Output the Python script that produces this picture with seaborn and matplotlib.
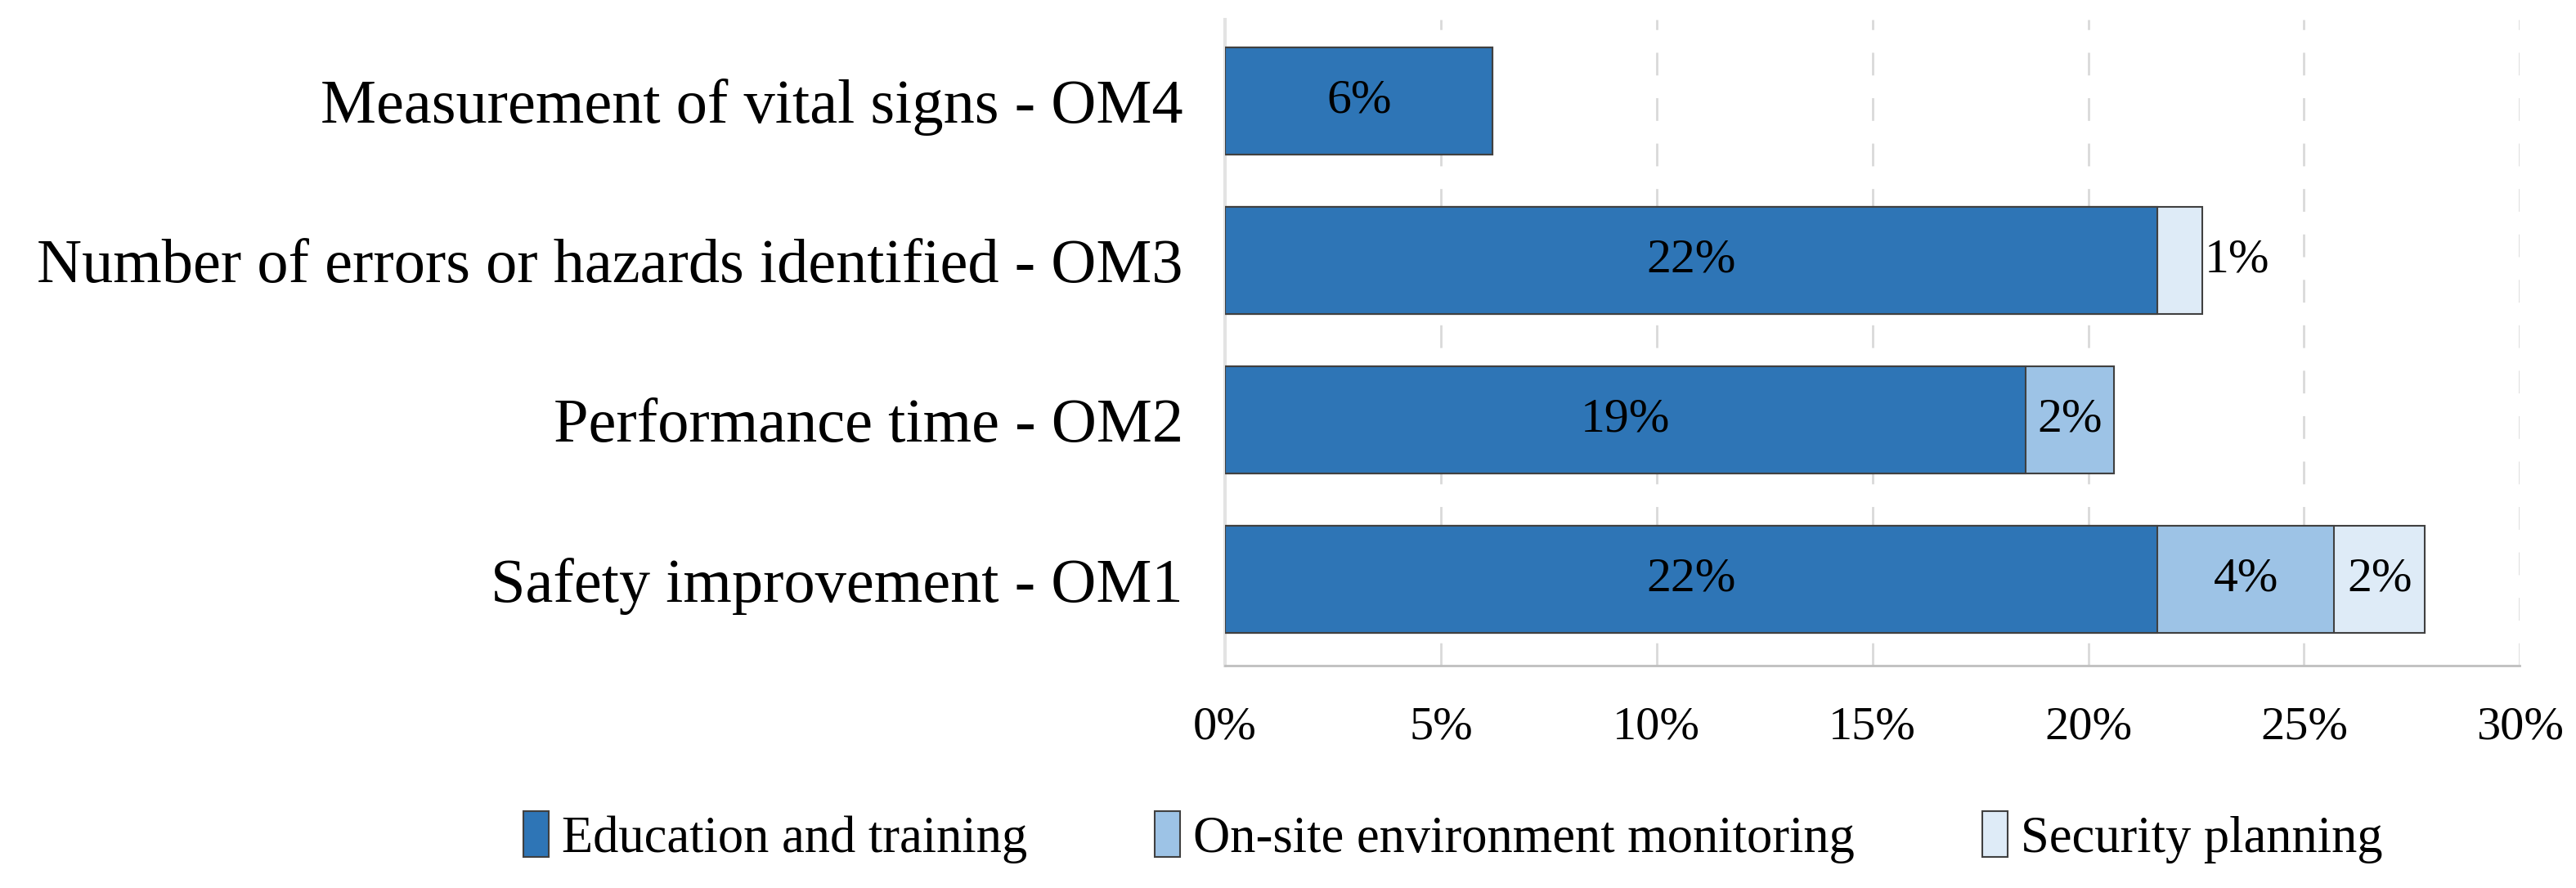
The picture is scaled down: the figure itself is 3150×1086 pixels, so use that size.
import matplotlib
matplotlib.use("Agg")
import matplotlib.pyplot as plt
from matplotlib.patches import Patch
import numpy as np
import pandas as pd
import seaborn as sns

# ---- data ----
categories = [
    "Measurement of vital signs - OM4",
    "Number of errors or hazards identified - OM3",
    "Performance time - OM2",
    "Safety improvement - OM1",
]
series_names = ["Education and training", "On-site environment monitoring", "Security planning"]
education = [6.2, 21.6, 18.55, 21.6]
monitoring = [0.0, 0.0, 2.05, 4.1]
security = [0.0, 1.05, 0.0, 2.1]
x_ticks = [0, 5, 10, 15, 20, 25, 30]

colors = ["#2E75B6", "#9DC3E6", "#DEEBF7"]

sns.set_style("white")
plt.rcParams["font.family"] = ["Liberation Serif", "DejaVu Serif"]
plt.rcParams["text.color"] = "black"
plt.rcParams["xtick.labelcolor"] = "black"
plt.rcParams["ytick.labelcolor"] = "black"

fig = plt.figure(figsize=(31.5, 10.86), dpi=100)
ax = fig.add_axes([0.4756, 0.2505, 0.5026, 0.7274])

edu = np.array(education)
mon = np.array(monitoring)
sec = np.array(security)
cum_total = edu + mon + sec
cum_mid = edu + mon

df = pd.DataFrame({"cat": categories, "total": cum_total, "mid": cum_mid, "edu": edu})

for col, c in zip(["total", "mid", "edu"], colors[::-1]):
    sns.barplot(data=df, x=col, y="cat", orient="h", color=c, width=0.67,
                edgecolor="#404040", linewidth=1.5, saturation=1, ax=ax, zorder=3)

ax.set_xlim(0, 30)
ax.set_ylim(3.54, -0.51)
ax.set_xlabel("")
ax.set_ylabel("")

# grid
ax.set_xticks(x_ticks)
ax.set_xticklabels([f"{t}%" for t in x_ticks], fontsize=42)
for t in x_ticks[1:]:
    ax.axvline(t, color="#D9D9D9", linewidth=2, linestyle=(0, (10, 10)), zorder=0)

ax.tick_params(axis="x", length=14, width=2, color="#BFBFBF", pad=22)
ax.tick_params(axis="y", which="major", length=0, pad=37, labelsize=55)
ax.set_yticks([-0.5, 0.5, 1.5, 2.5, 3.5], minor=True)
ax.tick_params(axis="y", which="minor", length=8, width=2, color="#E3E3E3")

for s in ["top", "right"]:
    ax.spines[s].set_visible(False)
ax.spines["left"].set_color("#E3E3E3")
ax.spines["left"].set_linewidth(3)
ax.spines["bottom"].set_color("#BFBFBF")
ax.spines["bottom"].set_linewidth(2)

# value labels
for i in range(len(categories)):
    starts = [0, edu[i], edu[i] + mon[i]]
    vals = [edu[i], mon[i], sec[i]]
    for st, v in zip(starts, vals):
        if v <= 0:
            continue
        txt = f"{round(v)}%"
        if v < 1.5:
            ax.text(st + v + 0.05, i, txt, ha="left", va="center", fontsize=43,
                    color="black", zorder=5)
        else:
            ax.text(st + v / 2, i, txt, ha="center", va="center", fontsize=43,
                    color="black", zorder=5)

handles = [Patch(facecolor=c, edgecolor="#404040", linewidth=1.5) for c in colors]
fig.legend(handles, series_names, loc="center", bbox_to_anchor=(0.564, 0.057),
           ncol=3, frameon=False, fontsize=45, handlelength=0.5, handleheight=1.0,
           handletextpad=0.25, columnspacing=2.5)

fig.savefig("out.png", dpi=100)
